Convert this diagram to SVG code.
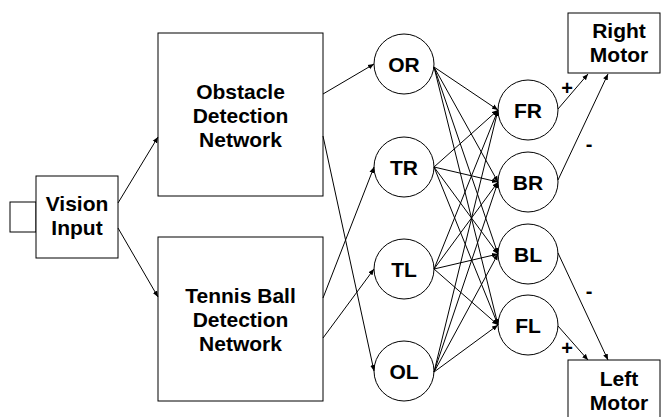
<svg xmlns="http://www.w3.org/2000/svg" width="661" height="417" viewBox="0 0 661 417">
<style>
.box{fill:#fff;stroke:#000;stroke-width:1}
.t{font-family:"Liberation Sans",Arial,sans-serif;font-weight:bold;font-size:21px;text-anchor:middle;fill:#000}
.s{font-size:20px}
.c{stroke:#000;stroke-width:1;fill:none;marker-end:url(#ah)}
</style>
<defs>
<marker id="ah" markerWidth="7" markerHeight="6" refX="6" refY="3" orient="auto" markerUnits="userSpaceOnUse">
<path d="M0,0.5 L6,3 L0,5.5 Z" fill="#000"/>
</marker>
</defs>
<g id="vision">
<rect class="box" x="10" y="202" width="26" height="30"/>
<rect class="box" x="36" y="176" width="82" height="82"/>
<text class="t" x="77" y="211">Vision</text>
<text class="t" x="77" y="235">Input</text>
</g>
<g id="obstacle">
<rect class="box" x="158" y="33" width="165" height="163"/>
<text class="t" x="240.5" y="99">Obstacle</text>
<text class="t" x="240.5" y="123">Detection</text>
<text class="t" x="240.5" y="147">Network</text>
</g>
<g id="tennis">
<rect class="box" x="158" y="237" width="165" height="164"/>
<text class="t" x="240.5" y="303">Tennis Ball</text>
<text class="t" x="240.5" y="327">Detection</text>
<text class="t" x="240.5" y="351">Network</text>
</g>
<g id="OR"><circle class="box" cx="404" cy="64" r="30"/><text class="t" x="404" y="72">OR</text></g>
<g id="TR"><circle class="box" cx="404" cy="167" r="30"/><text class="t" x="404" y="175">TR</text></g>
<g id="TL"><circle class="box" cx="404" cy="269" r="30"/><text class="t" x="404" y="277">TL</text></g>
<g id="OL"><circle class="box" cx="404" cy="371" r="30"/><text class="t" x="404" y="379">OL</text></g>
<g id="FR"><circle class="box" cx="528" cy="110" r="30"/><text class="t" x="528" y="118">FR</text></g>
<g id="BR"><circle class="box" cx="528" cy="182" r="30"/><text class="t" x="528" y="190">BR</text></g>
<g id="BL"><circle class="box" cx="528" cy="254" r="30"/><text class="t" x="528" y="262">BL</text></g>
<g id="FL"><circle class="box" cx="528" cy="325" r="30"/><text class="t" x="528" y="333">FL</text></g>
<g id="rightmotor">
<rect class="box" x="568" y="13" width="92" height="60"/>
<text class="t" x="619" y="38">Right</text>
<text class="t" x="619" y="62">Motor</text>
</g>
<g id="leftmotor">
<rect class="box" x="568" y="360" width="92" height="70"/>
<text class="t" x="619" y="386">Left</text>
<text class="t" x="619" y="410">Motor</text>
</g>
<g id="connectors">
<line class="c" x1="118" y1="203" x2="158" y2="137"/>
<line class="c" x1="118" y1="228" x2="158" y2="297"/>
<line class="c" x1="323" y1="94" x2="374" y2="64"/>
<line class="c" x1="323" y1="136" x2="374" y2="371"/>
<line class="c" x1="323" y1="298" x2="374" y2="167"/>
<line class="c" x1="323" y1="338" x2="374" y2="269"/>
<line class="c" x1="434" y1="67" x2="498" y2="110"/>
<line class="c" x1="434" y1="67" x2="498" y2="182"/>
<line class="c" x1="434" y1="67" x2="498" y2="254"/>
<line class="c" x1="434" y1="67" x2="498" y2="325"/>
<line class="c" x1="434" y1="167" x2="498" y2="110"/>
<line class="c" x1="434" y1="167" x2="498" y2="182"/>
<line class="c" x1="434" y1="167" x2="498" y2="254"/>
<line class="c" x1="434" y1="167" x2="498" y2="325"/>
<line class="c" x1="434" y1="269" x2="498" y2="110"/>
<line class="c" x1="434" y1="269" x2="498" y2="182"/>
<line class="c" x1="434" y1="269" x2="498" y2="254"/>
<line class="c" x1="434" y1="269" x2="498" y2="325"/>
<line class="c" x1="434" y1="372" x2="498" y2="110"/>
<line class="c" x1="434" y1="372" x2="498" y2="182"/>
<line class="c" x1="434" y1="372" x2="498" y2="254"/>
<line class="c" x1="434" y1="372" x2="498" y2="325"/>
<line class="c" x1="558" y1="109" x2="588" y2="74"/>
<line class="c" x1="558" y1="180" x2="608" y2="74"/>
<line class="c" x1="558" y1="253" x2="608" y2="360"/>
<line class="c" x1="558" y1="326" x2="588" y2="360"/>
</g>
<g id="labels">
<text class="t s" x="567" y="95">+</text>
<text class="t s" x="589" y="151">-</text>
<text class="t s" x="589" y="298">-</text>
<text class="t s" x="567" y="355">+</text>
</g>
</svg>
